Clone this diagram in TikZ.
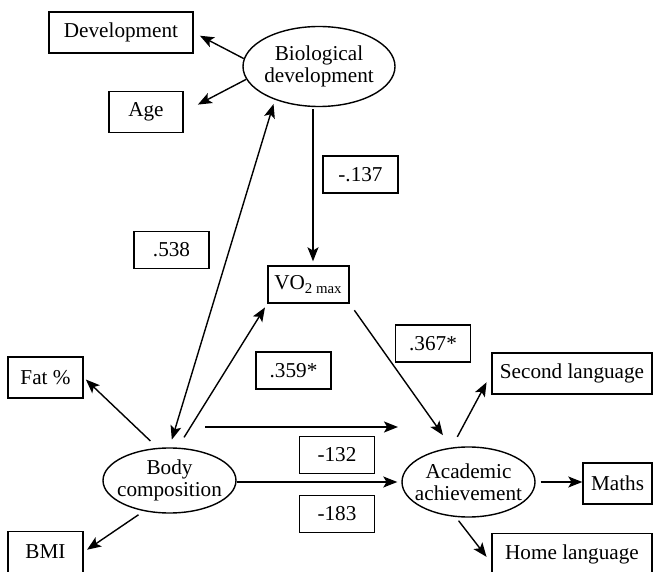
\documentclass[tikz,border=0pt]{standalone}
\usepackage{fontspec}
\setmainfont{Liberation Serif}
\usetikzlibrary{arrows.meta,shapes.geometric,calc}

\begin{document}
\begin{tikzpicture}[x=0.5pt, y=-0.5pt, line width=0.7pt,
  font=\fontsize{10.6}{11.2}\selectfont,
  obs/.style={draw, rectangle, inner sep=0pt, minimum height=20.5pt},
  lat/.style={draw, ellipse, inner xsep=-4pt, inner ysep=0pt, align=center},
  coef/.style={draw, rectangle, inner sep=0pt, minimum width=37.5pt, minimum height=18.5pt},
  arr/.style={-{Stealth[length=7pt,width=5.5pt,inset=1.6pt]}},
  dbl/.style={{Stealth[length=7pt,width=5.5pt,inset=1.6pt]}-{Stealth[length=7pt,width=5.5pt,inset=1.6pt]}}]
\useasboundingbox (0,0) rectangle (654,572);
% latent variables
\node[lat, minimum width=76pt, minimum height=40pt] (bio) at (319,66.5) {Biological\\development};
\node[lat, minimum width=66.5pt, minimum height=32.5pt] (body) at (169.5,480.5) {Body\\composition};
\node[lat, minimum width=66.5pt, minimum height=35pt] (acad) at (468.5,482) {Academic\\achievement};
% observed variables
\node[obs, minimum width=72pt] (dev) at (121,32.5) {Development};
\node[obs, minimum width=37pt] (age) at (146,112) {Age};
\node[obs, minimum width=40.5pt, minimum height=18.5pt] (vo2) at (308.5,284.5) {VO\textsubscript{2 max}};
\node[obs, minimum width=37.5pt] (fat) at (45.5,377.5) {Fat \%};
\node[obs, minimum width=37.5pt] (bmi) at (45.5,552) {BMI};
\node[obs, minimum width=80pt] (second) at (572,373.5) {Second language};
\node[obs, minimum width=34.5pt] (maths) at (617.5,483.5) {Maths};
\node[obs, minimum width=80pt] (home) at (572,554) {Home language};
% path coefficients
\node[coef] (c137) at (360.5,174.5) {-.137};
\node[coef] (c538) at (171.5,250) {.538};
\node[coef] (c359) at (293.5,370.5) {.359*};
\node[coef] (c367) at (433,343.5) {.367*};
\node[coef] (c132) at (337,455) {-132};
\node[coef] (c183) at (337,514) {-183};
% paths
\coordinate (v1) at ([xshift=2.25pt]vo2.north);
\coordinate (h1) at (205,427);
\coordinate (h2) at (398,427);
\draw[arr, shorten >=3.5pt] (bio.174) -- (dev.east);
\draw[arr, shorten >=8pt] (bio.190) -- (age.east);
\draw[arr, shorten <=1pt, shorten >=2pt] (v1 |- bio.south) -- (v1);
\draw[dbl, shorten <=4pt, shorten >=2.2pt] (body.north) -- (bio.217);
\draw[arr, shorten <=6pt, shorten >=2.2pt] (body.76) -- (vo2.south west);
\draw[arr, shorten <=4pt, shorten >=7.5pt] (vo2.south east) -- (acad.116);
\draw[arr] (h1) -- (h2);
\draw[arr, shorten >=2pt] (body.east |- acad.west) -- (acad.west);
\draw[arr, shorten <=6pt, shorten >=5pt] (acad.116) -- (second.west);
\draw[arr, shorten <=2.5pt] (acad.east) -- (acad.east -| maths.west);
\draw[arr, shorten <=2.3pt, shorten >=3.9pt] (acad.250) -- ([yshift=-4.5pt]home.west);
\draw[arr, shorten <=5pt, shorten >=1.5pt] (body.110) -- (fat.east);
\draw[arr, shorten <=3.2pt, shorten >=2pt] (body.230) -- (bmi.east);
\end{tikzpicture}
\end{document}
